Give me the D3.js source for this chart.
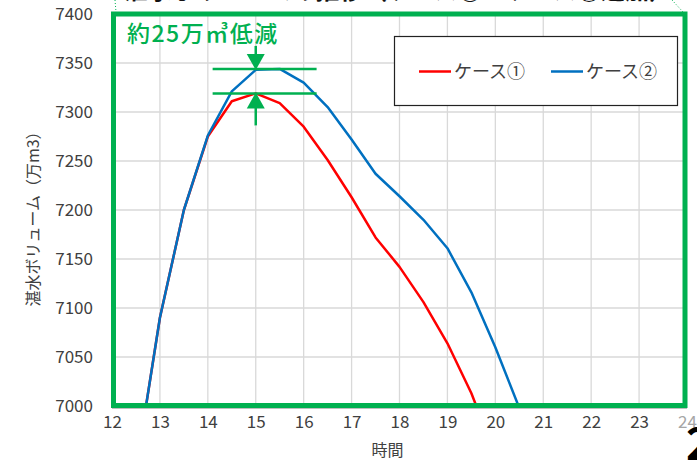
<!DOCTYPE html>
<html>
<head>
<meta charset="utf-8">
<script src="https://cdn.jsdelivr.net/npm/d3@7"></script>
<style>
  body { margin: 0; background: #fff; }
  svg { display: block; font-family: "Noto Sans CJK JP", "Noto Sans", sans-serif; }
</style>
</head>
<body>
<div id="vis"></div>
<script>
// data (hours, 万m3)
var hours1 = [12.5, 13, 13.5, 14, 14.5, 15, 15.5, 16, 16.5, 17, 17.5, 18, 18.5, 19, 19.5, 20];
var case1 = [6935, 7090, 7200, 7275, 7311, 7319, 7309, 7285, 7251, 7213, 7172, 7142, 7106, 7064, 7013, 6950];
var hours2 = [12.5, 13, 13.5, 14, 14.5, 15, 15.5, 16, 16.5, 17, 17.5, 18, 18.5, 19, 19.5, 20, 20.5];
var case2 = [6935, 7090, 7200, 7276, 7321, 7343, 7344, 7330, 7305, 7272, 7237, 7214, 7190, 7161, 7116, 7060, 6998];
var seriesNames = ["ケース①", "ケース②"];
var xTicks = d3.range(12, 25);
var yTicks = d3.range(7000, 7401, 50);

var opts = {
  width: 697,
  height: 460,
  left: 112,
  right: 687,
  top: 14,
  bottom: 406
};

var colors = ["#ff0000", "#0070c0"];
var green = "#00b050";

var svg = d3.select("#vis")
  .append("svg")
  .attr("width", opts.width)
  .attr("height", opts.height);

var x = d3.scaleLinear().domain([12, 24]).range([opts.left, opts.right]);
var y = d3.scaleLinear().domain([7000, 7400]).range([opts.bottom, opts.top]);

// title sits mostly above the picture, only its foot shows
svg.append("text")
  .attr("x", 124)
  .attr("y", -1)
  .attr("font-size", 24)
  .attr("font-weight", "bold")
  .attr("fill", "#111")
  .text("湛水ボリュームの推移（ケース①・ケース②追加）");

// dotted leaders from the title frame
svg.append("line")
  .attr("x1", 115).attr("y1", 0).attr("x2", 116).attr("y2", 12)
  .attr("stroke", green).attr("stroke-width", 1).attr("stroke-dasharray", "1,2");
svg.append("line")
  .attr("x1", 672).attr("y1", 0).attr("x2", 683).attr("y2", 12)
  .attr("stroke", green).attr("stroke-width", 1).attr("stroke-dasharray", "1,2");

// grid
svg.append("g")
  .selectAll("line")
  .data(xTicks.slice(1, -1))
  .enter().append("line")
  .attr("x1", function(d) { return x(d); })
  .attr("x2", function(d) { return x(d); })
  .attr("y1", opts.top)
  .attr("y2", opts.bottom)
  .attr("stroke", "#d9d9d9")
  .attr("stroke-width", 1.3);

svg.append("g")
  .selectAll("line")
  .data(yTicks.slice(1, -1))
  .enter().append("line")
  .attr("x1", opts.left)
  .attr("x2", opts.right)
  .attr("y1", function(d) { return y(d); })
  .attr("y2", function(d) { return y(d); })
  .attr("stroke", "#d9d9d9")
  .attr("stroke-width", 1.3);

// axes
var yAxis = svg.append("g")
  .attr("transform", "translate(" + (opts.left - 16) + ",0)")
  .call(d3.axisLeft(y).tickValues(yTicks).tickSize(0).tickFormat(d3.format("d")));
yAxis.select(".domain").remove();
yAxis.selectAll("text")
  .attr("font-size", 17)
  .attr("font-family", "'Noto Sans CJK JP', sans-serif")
  .attr("fill", "#404040")
  .attr("dy", "0.35em");

var xAxis = svg.append("g")
  .attr("transform", "translate(0," + (opts.bottom + 16) + ")")
  .call(d3.axisBottom(x).tickValues(xTicks).tickSize(0).tickFormat(d3.format("d")));
xAxis.select(".domain").remove();
xAxis.selectAll("text")
  .attr("font-size", 17)
  .attr("font-family", "'Noto Sans CJK JP', sans-serif")
  .attr("fill", function(d) { return d === 24 ? "#a6a6a6" : "#404040"; })
  .attr("dy", "0.35em")
  .attr("y", 0);

svg.append("line")
  .attr("x1", opts.left).attr("x2", opts.right)
  .attr("y1", opts.bottom + 2).attr("y2", opts.bottom + 2)
  .attr("stroke", "#7f7f7f").attr("stroke-width", 1);

// axis titles
svg.append("text")
  .attr("transform", "translate(39," + ((opts.top + opts.bottom) / 2 + 5) + ") rotate(-90)")
  .attr("text-anchor", "middle")
  .attr("font-size", 16)
  .attr("fill", "#404040")
  .text("湛水ボリューム（万m3）");

svg.append("text")
  .attr("x", (opts.left + opts.right) / 2 - 12)
  .attr("y", 451)
  .attr("dy", "0.3em")
  .attr("text-anchor", "middle")
  .attr("font-size", 16)
  .attr("fill", "#404040")
  .text("時間");

// lines, clipped to the plot area like the original
svg.append("clipPath").attr("id", "plot-clip")
  .append("rect")
  .attr("x", opts.left).attr("y", opts.top)
  .attr("width", opts.right - opts.left).attr("height", opts.bottom - opts.top);

var line = d3.line()
  .x(function(d) { return x(d[0]); })
  .y(function(d) { return y(d[1]); });

var series = [d3.zip(hours1, case1), d3.zip(hours2, case2)];

svg.append("g")
  .attr("clip-path", "url(#plot-clip)")
  .selectAll("path")
  .data(series)
  .enter().append("path")
  .attr("d", line)
  .attr("fill", "none")
  .attr("stroke", function(d, i) { return colors[i]; })
  .attr("stroke-width", 2.5)
  .attr("stroke-linejoin", "round");

// green frame
svg.append("rect")
  .attr("x", opts.left + 1.5)
  .attr("y", opts.top)
  .attr("width", opts.right - opts.left - 3.5)
  .attr("height", opts.bottom - opts.top - 0.5)
  .attr("fill", "none")
  .attr("stroke", green)
  .attr("stroke-width", 5);

// peak difference annotation
var peak1 = d3.max(case1), peak2 = d3.max(case2);
var ax = x(15);
[peak2, peak1].forEach(function(v) {
  svg.append("line")
    .attr("x1", x(14.1)).attr("x2", x(16.27))
    .attr("y1", y(v)).attr("y2", y(v))
    .attr("stroke", green).attr("stroke-width", 2.5);
});
var yTop = y(peak2), yBot = y(peak1);
svg.append("line")
  .attr("x1", ax).attr("x2", ax).attr("y1", yTop - 23).attr("y2", yTop - 12)
  .attr("stroke", green).attr("stroke-width", 2.5);
svg.append("path")
  .attr("d", "M" + (ax - 9) + "," + (yTop - 15) + "L" + (ax + 9) + "," + (yTop - 15) + "L" + ax + "," + (yTop + 1) + "Z")
  .attr("fill", green);
svg.append("line")
  .attr("x1", ax).attr("x2", ax).attr("y1", yBot + 12).attr("y2", yBot + 32)
  .attr("stroke", green).attr("stroke-width", 2.5);
svg.append("path")
  .attr("d", "M" + (ax - 9) + "," + (yBot + 15) + "L" + (ax + 9) + "," + (yBot + 15) + "L" + ax + "," + (yBot - 1) + "Z")
  .attr("fill", green);

svg.append("text")
  .attr("x", 127)
  .attr("y", 42)
  .attr("font-size", 23)
  .attr("letter-spacing", 1.5)
  .attr("font-weight", 500)
  .attr("fill", green)
  .text("約25万㎥低減");

// legend
var lg = svg.append("g");
lg.append("rect")
  .attr("x", 394.5).attr("y", 36.5).attr("width", 283).attr("height", 69)
  .attr("fill", "#fff").attr("stroke", "#222").attr("stroke-width", 1.2);
var lx = [419, 551];
seriesNames.forEach(function(name, i) {
  lg.append("line")
    .attr("x1", lx[i]).attr("x2", lx[i] + 32)
    .attr("y1", 71.5).attr("y2", 71.5)
    .attr("stroke", colors[i]).attr("stroke-width", 2.5);
  lg.append("text")
    .attr("x", lx[i] + 35)
    .attr("y", 71.5)
    .attr("dy", "0.35em")
    .attr("font-size", 18)
    .attr("fill", "#404040")
    .text(name);
});

// page number peeking in at the right edge
svg.append("text")
  .attr("x", 686)
  .attr("y", 460)
  .attr("font-size", 44)
  .attr("font-weight", "bold")
  .attr("fill", "#000")
  .text("2");
</script>
</body>
</html>
